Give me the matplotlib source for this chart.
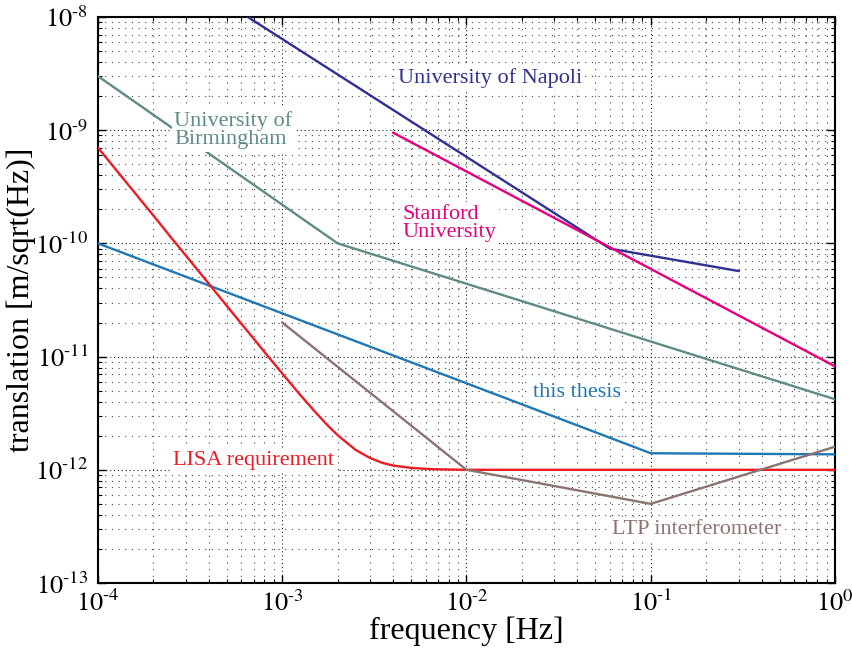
import numpy as np
import matplotlib
matplotlib.use('Agg')
import matplotlib.pyplot as plt
from matplotlib.ticker import LogLocator, NullFormatter, FuncFormatter

plt.rcParams['font.family'] = ['Liberation Serif', 'DejaVu Serif']
plt.rcParams['mathtext.fontset'] = 'stix'

# curves (frequency [Hz], translation [m/sqrt(Hz)])
napoli_f = [6.5e-4, 0.06, 0.3]
napoli_y = [1.0e-8, 9.0e-11, 5.7e-11]

stanford_f = [4e-3, 1.0]
stanford_y = [9.5e-10, 8.2e-12]

birmingham_f = [1e-4, 2e-3, 1.0]
birmingham_y = [3.0e-9, 1.0e-10, 4.2e-12]

thesis_f = [1e-4, 0.1, 1.0]
thesis_y = [1.0e-10, 1.4e-12, 1.37e-12]

lisa_f = [1e-4, 1.25e-4, 1.5e-4, 2e-4, 2.5e-4, 3e-4, 4e-4, 5e-4, 6e-4, 7e-4, 8e-4, 9e-4,
          1e-3, 1.25e-3, 1.5e-3, 1.75e-3, 2e-3, 2.5e-3, 3e-3, 3.5e-3, 4e-3, 5e-3, 6e-3,
          7e-3, 1e-2, 1.0]
lisa_y = [7.0e-10, 4.49e-10, 3.12e-10, 1.76e-10, 1.12e-10, 7.8e-11, 4.39e-11, 2.81e-11,
          1.95e-11, 1.44e-11, 1.10e-11, 8.73e-12, 7.09e-12, 4.6e-12, 3.28e-12, 2.5e-12,
          2.02e-12, 1.5e-12, 1.27e-12, 1.15e-12, 1.09e-12, 1.04e-12, 1.02e-12, 1.01e-12,
          1.0e-12, 1.0e-12]

ltp_f = [1e-3, 1e-2, 0.1, 1.0]
ltp_y = [2.0e-11, 1.0e-12, 5.0e-13, 1.6e-12]

c_napoli = '#2e3192'
c_stanford = '#e5007d'
c_birm = '#5f8b87'
c_thesis = '#1f78b4'
c_lisa = '#ec1c24'
c_ltp = '#8b7470'


def pow10(v, pos):
    e = int(round(np.log10(v)))
    if e < 0:
        return r'$10^{\text{-}%d}$' % (-e)
    return r'$10^{%d}$' % e


fig = plt.figure(figsize=(8.53, 6.49), dpi=100)
ax = fig.add_axes([98 / 853, 1 - 583 / 649, 737 / 853, 566 / 649])

lw = 1.7
ax.plot(napoli_f, napoli_y, color=c_napoli, lw=lw, zorder=3)
ax.plot(stanford_f, stanford_y, color=c_stanford, lw=lw, zorder=3)
ax.plot(birmingham_f, birmingham_y, color=c_birm, lw=lw, zorder=3)
ax.plot(thesis_f, thesis_y, color=c_thesis, lw=lw, zorder=3)
ax.plot(lisa_f, lisa_y, color=c_lisa, lw=lw, zorder=3)
ax.plot(ltp_f, ltp_y, color=c_ltp, lw=lw, zorder=3)

ax.set_xscale('log')
ax.set_yscale('log')
ax.set_xlim(1e-4, 1)
ax.set_ylim(1e-13, 1e-8)

ax.xaxis.set_major_locator(LogLocator(base=10, numticks=10))
ax.yaxis.set_major_locator(LogLocator(base=10, numticks=10))
ax.xaxis.set_minor_locator(LogLocator(base=10, subs=np.arange(2, 10), numticks=20))
ax.yaxis.set_minor_locator(LogLocator(base=10, subs=np.arange(2, 10), numticks=20))
ax.xaxis.set_major_formatter(FuncFormatter(pow10))
ax.yaxis.set_major_formatter(FuncFormatter(pow10))
ax.xaxis.set_minor_formatter(NullFormatter())
ax.yaxis.set_minor_formatter(NullFormatter())

ax.grid(True, which='major', linestyle=(0, (1, 2.5)), color='#222222', linewidth=0.8)
ax.grid(True, which='minor', linestyle=(0, (1, 5)), color='#444444', linewidth=0.8)
ax.tick_params(which='both', direction='in', top=True, right=True, labelsize=19)
ax.tick_params(axis='x', pad=5)
ax.tick_params(axis='y', pad=7)
ax.tick_params(which='major', length=6, width=1)
ax.tick_params(which='minor', length=3, width=0.8)
for s in ax.spines.values():
    s.set_linewidth(1.5)

ax.set_xlabel('frequency [Hz]', fontsize=23)
ax.set_ylabel('translation [m/sqrt(Hz)]', fontsize=23)
ax.xaxis.set_label_coords(0.5, -0.086)
ax.xaxis.label.set_va('center')
ax.yaxis.set_label_coords(-0.104, 0.5)
ax.yaxis.label.set_va('center')

box = dict(facecolor='white', edgecolor='none', pad=2)
fs = 16
ax.text(0.0134, 2.9e-9, 'University of Napoli', color=c_napoli, fontsize=fs,
        ha='center', va='center', bbox=box, zorder=4)
ax.text(2.6e-4, 1.0e-9, 'University of\nBirmingham', color=c_birm, fontsize=fs,
        ha='left', va='center', linespacing=0.95, bbox=box, zorder=4)
ax.text(4.5e-3, 1.5e-10, 'Stanford\nUniversity', color=c_stanford, fontsize=fs,
        ha='left', va='center', linespacing=0.95, bbox=box, zorder=4)
ax.text(0.040, 4.8e-12, 'this thesis', color=c_thesis, fontsize=fs,
        ha='center', va='center', bbox=box, zorder=4)
ax.text(2.55e-4, 1.22e-12, 'LISA requirement', color=c_lisa, fontsize=fs,
        ha='left', va='center', bbox=box, zorder=4)
ax.text(0.0617, 2.95e-13, 'LTP interferometer', color=c_ltp, fontsize=fs,
        ha='left', va='center', bbox=box, zorder=4)

fig.savefig('out.png', dpi=100)
